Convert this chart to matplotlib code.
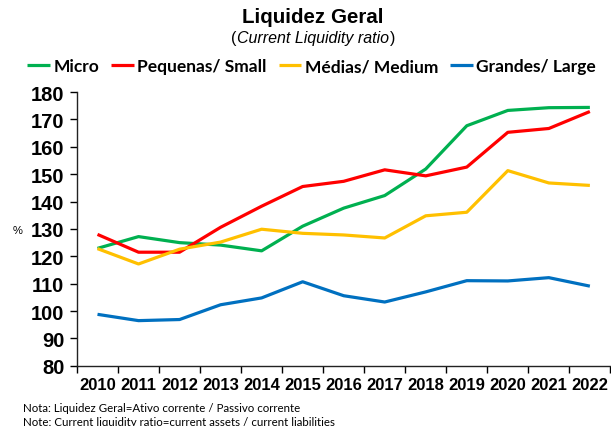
import numpy as np
import matplotlib
matplotlib.use("Agg")
import matplotlib.pyplot as plt

years = ["2010", "2011", "2012", "2013", "2014", "2015", "2016",
         "2017", "2018", "2019", "2020", "2021", "2022"]
micro = [122.9, 127.2, 125.0, 124.1, 122.0, 131.0, 137.6, 142.2, 151.9, 167.7, 173.3, 174.3, 174.4]
pequenas = [128.0, 121.5, 121.5, 130.6, 138.3, 145.5, 147.4, 151.6, 149.4, 152.6, 165.3, 166.7, 172.9]
medias = [122.8, 117.2, 122.6, 125.2, 129.9, 128.4, 127.8, 126.7, 134.8, 136.1, 151.3, 146.8, 145.9]
grandes = [98.8, 96.5, 96.9, 102.3, 104.8, 110.7, 105.6, 103.3, 107.0, 111.1, 111.0, 112.2, 109.1]

series = [
    ("Micro", micro, "#00B050"),
    ("Pequenas/ Small", pequenas, "#FF0000"),
    ("Médias/ Medium", medias, "#FFC000"),
    ("Grandes/ Large", grandes, "#0070C0"),
]

plt.rcParams["font.family"] = ["Liberation Sans", "DejaVu Sans"]

fig = plt.figure(figsize=(6.11, 4.27), dpi=100)
ax = fig.add_axes([0.126, 0.141, 0.873, 0.641])

x = np.arange(len(years))
for name, vals, col in series:
    ax.plot(x, vals, color=col, lw=2.3, label=name, solid_capstyle="butt")

ax.set_xlim(-0.5, len(years) - 0.5)
ax.set_ylim(80, 180)
ax.set_yticks(np.arange(80, 181, 10))
ax.tick_params(axis="y", labelsize=14.5, length=5, width=1, pad=4)
for lb in ax.get_yticklabels():
    lb.set_fontweight("bold")

# labels at category centres, tick marks between categories
ax.set_xticks(x)
ax.set_xticklabels(years, fontsize=12, fontweight="bold")
ax.set_xticks(np.arange(-0.5, len(years)), minor=True)
ax.tick_params(axis="x", which="major", length=0, pad=8)
ax.tick_params(axis="x", which="minor", length=5, width=1)

for s in ["top", "right"]:
    ax.spines[s].set_visible(False)
for s in ["left", "bottom"]:
    ax.spines[s].set_color("#222222")
    ax.spines[s].set_linewidth(1)

fig.text(0.028, 0.458, "%", fontsize=8, ha="center", va="center")

fig.text(0.512, 0.958, "Liquidez Geral", fontsize=14.8, fontweight="bold",
         ha="center", va="center")

# subtitle: italic inside, upright parentheses
fig.canvas.draw()
r = fig.canvas.get_renderer()
mid = fig.text(0.512, 0.911, "Current Liquidity ratio", fontsize=11.5, style="italic",
               ha="center", va="center")
bb = mid.get_window_extent(r).transformed(fig.transFigure.inverted())
fig.text(bb.x0, 0.911, "(", fontsize=11.5, ha="right", va="center")
fig.text(bb.x1 + 0.002, 0.911, ")", fontsize=11.5, ha="left", va="center")

leg = fig.legend(loc="center", bbox_to_anchor=(0.51, 0.843), ncol=4,
                 frameon=False, handlelength=1.3, handletextpad=0.2,
                 columnspacing=0.7, prop={"family": "Lato", "weight": "bold", "size": 12.5})

fig.text(0.038, 0.044, "Nota: Liquidez Geral=Ativo corrente / Passivo corrente",
         fontsize=8.3, family="Lato", va="center")
fig.text(0.038, 0.011, "Note: Current liquidity ratio=current assets / current liabilities",
         fontsize=8.3, family="Lato", va="center")

fig.savefig("out.png", dpi=100)
